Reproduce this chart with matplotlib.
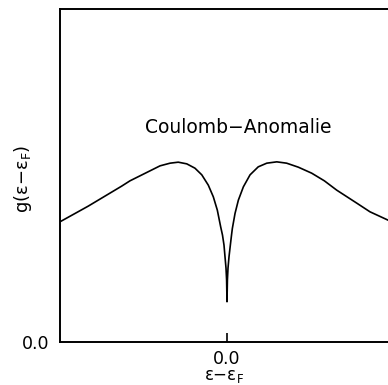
import matplotlib
matplotlib.use('Agg')
from matplotlib import pyplot as plt
import numpy as np

# points (x = e - eF, y = g)
energy = [-1.000, -0.910, -0.831, -0.731, -0.631, -0.581, -0.521, -0.461, -0.401,
          -0.341, -0.292, -0.241, -0.192, -0.151, -0.112, -0.082, -0.058, -0.038,
          -0.027, -0.018, -0.012, -0.006, -0.0024, 0.000,
          0.0024, 0.006, 0.012, 0.020, 0.027, 0.032, 0.048, 0.068, 0.098,
          0.138, 0.187, 0.238, 0.298, 0.357, 0.427, 0.507, 0.583, 0.657,
          0.777, 0.856, 0.964]
dos = [0.361, 0.386, 0.408, 0.438, 0.468, 0.484, 0.499, 0.514, 0.529,
       0.537, 0.540, 0.535, 0.522, 0.502, 0.471, 0.436, 0.396, 0.346,
       0.321, 0.291, 0.256, 0.222, 0.186, 0.121,
       0.186, 0.222, 0.256, 0.291, 0.321, 0.341, 0.386, 0.426, 0.466,
       0.502, 0.526, 0.537, 0.541, 0.537, 0.525, 0.507, 0.484, 0.456,
       0.417, 0.391, 0.366]
label = 'Coulomb\u2212Anomalie'

plt.rcParams['font.family'] = ['DejaVu Sans']
plt.rcParams['mathtext.fontset'] = 'dejavusans'

fig = plt.figure(figsize=(3.88, 3.85), dpi=100)
ax = fig.add_axes([60/388, 43/385, 328/388, 333/385])

ax.plot(energy, dos, color='black', lw=1.2)
ax.set_xlim(-1, 0.964)
ax.set_ylim(0, 1)

for s in ['left', 'top', 'bottom']:
    ax.spines[s].set_linewidth(1.4)
ax.spines['right'].set_visible(False)

ax.set_xticks([0])
ax.set_xticklabels(['0.0'], fontsize=12.5)
ax.set_yticks([0])
ax.set_yticklabels(['0.0'], fontsize=12.5)
ax.tick_params(axis='x', direction='in', length=6.5, width=1.2, pad=6)
ax.tick_params(axis='y', length=0, pad=8)

ax.set_xlabel('\u03b5\u2212\u03b5$_{\\rm F}$', fontsize=12, labelpad=-1)
ax.set_ylabel('g(\u03b5\u2212\u03b5$_{\\rm F}$)', fontsize=13)
ax.yaxis.set_label_coords(-0.078, 0.49)

ax.text(0.07, 0.645, label, fontsize=13.5, ha='center', va='center')

fig.savefig('out.png', dpi=100)
